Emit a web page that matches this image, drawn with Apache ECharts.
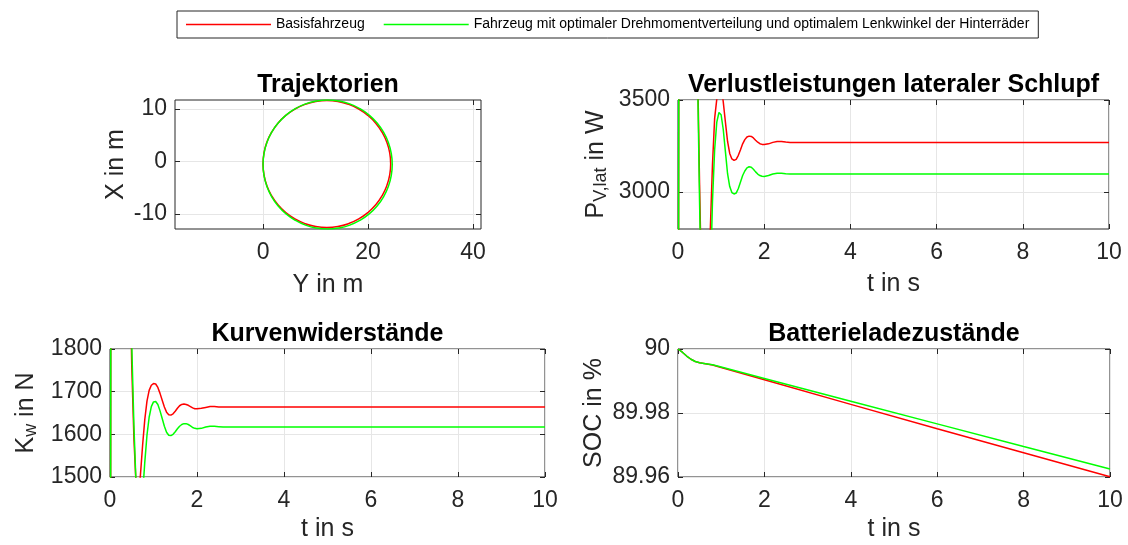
<!DOCTYPE html>
<html><head><meta charset="utf-8">
<script src="https://cdn.jsdelivr.net/npm/echarts@6/dist/echarts.min.js"></script>
<style>html,body{margin:0;padding:0;background:#fff}#c{width:1128px;height:545px}</style>
</head><body><div id="c"></div>
<script>
// ---------- data ----------
const seriesNames = ['Basisfahrzeug', 'Fahrzeug mit optimaler Drehmomentverteilung und optimalem Lenkwinkel der Hinterräder'];
const titles = ['Trajektorien', 'Verlustleistungen lateraler Schlupf', 'Kurvenwiderstände', 'Batterieladezustände'];

// Trajectories (Y in m horizontal, X in m vertical)
const trajRedY = [0, 0.18, 0.73, 1.63, 2.84, 4.34, 6.08, 7.99, 10.04, 12.15, 14.26, 16.31, 18.23, 19.96, 21.46, 22.67, 23.57, 24.12, 24.30, 24.12, 23.57, 22.67, 21.46, 19.96, 18.23, 16.31, 14.26, 12.15, 10.04, 7.99, 6.08, 4.34, 2.84, 1.63, 0.73, 0.18, 0];
const trajRedX = [-0.5, 1.60, 3.64, 5.55, 7.28, 8.77, 9.98, 10.87, 11.42, 11.6, 11.42, 10.87, 9.98, 8.77, 7.28, 5.55, 3.64, 1.60, -0.5, -2.60, -4.64, -6.55, -8.28, -9.77, -10.98, -11.87, -12.42, -12.6, -12.42, -11.87, -10.98, -9.77, -8.28, -6.55, -4.64, -2.60, -0.5];
const trajGreenY = [0, 0.19, 0.74, 1.65, 2.88, 4.39, 6.15, 8.09, 10.16, 12.3, 14.44, 16.51, 18.45, 20.21, 21.72, 22.95, 23.86, 24.41, 24.6, 24.41, 23.86, 22.95, 21.72, 20.21, 18.45, 16.51, 14.44, 12.3, 10.16, 8.09, 6.15, 4.39, 2.88, 1.65, 0.74, 0.19, 0];
const trajGreenX = [-0.6, 1.54, 3.61, 5.55, 7.31, 8.82, 10.05, 10.96, 11.51, 11.7, 11.51, 10.96, 10.05, 8.82, 7.31, 5.55, 3.61, 1.54, -0.6, -2.74, -4.81, -6.75, -8.51, -10.02, -11.25, -12.16, -12.71, -12.9, -12.71, -12.16, -11.25, -10.02, -8.51, -6.75, -4.81, -2.74, -0.6];

// time base for P and K
const tT = [0, 0.03, 0.1, 0.2, 0.3, 0.4, 0.45, 0.5, 0.55, 0.6, 0.65, 0.7, 0.75, 0.8, 0.85, 0.9, 0.95, 1.0, 1.05, 1.1, 1.15, 1.2, 1.25, 1.3, 1.35, 1.4, 1.45, 1.5, 1.55, 1.6, 1.65, 1.7, 1.75, 1.8, 1.85, 1.9, 1.95, 2.0, 2.1, 2.2, 2.3, 2.4, 2.5, 2.6, 2.8, 3.0, 4, 5, 6, 7, 8, 9, 10];
const pRed = [0, 6000, 7500, 7000, 5600, 4300, 3750, 3050, 2450, 1950, 1800, 2150, 2800, 3150, 3400, 3505, 3585, 3580, 3490, 3380, 3275, 3210, 3180, 3172, 3178, 3200, 3230, 3262, 3285, 3299, 3304, 3302, 3294, 3282, 3271, 3263, 3259, 3258, 3262, 3270, 3275, 3275, 3272, 3270, 3269, 3269, 3269, 3269, 3269, 3269, 3269, 3269, 3269];
const pGreen = [0, 6000, 7500, 7000, 5600, 4300, 3700, 2950, 2350, 1900, 1750, 2000, 2500, 2950, 3230, 3380, 3432, 3420, 3340, 3220, 3100, 3030, 2998, 2990, 2995, 3020, 3055, 3090, 3115, 3132, 3138, 3135, 3124, 3110, 3098, 3090, 3086, 3085, 3090, 3098, 3102, 3102, 3100, 3099, 3098, 3098, 3098, 3098, 3098, 3098, 3098, 3098, 3098];
const kRed = [0, 3000, 3600, 3400, 3000, 2400, 2050, 1760, 1590, 1480, 1455, 1505, 1575, 1635, 1678, 1703, 1715, 1719, 1718, 1710, 1696, 1680, 1664, 1652, 1646, 1645, 1648, 1654, 1661, 1667, 1670, 1671, 1670, 1668, 1665, 1662, 1660, 1660, 1661, 1663, 1665, 1665, 1664, 1664, 1664, 1664, 1664, 1664, 1664, 1664, 1664, 1664, 1664];
const kGreen = [0, 3000, 3600, 3400, 3000, 2400, 2080, 1810, 1620, 1480, 1400, 1400, 1460, 1535, 1598, 1640, 1665, 1676, 1677, 1670, 1655, 1637, 1619, 1605, 1598, 1597, 1600, 1606, 1613, 1619, 1623, 1625, 1625, 1623, 1620, 1616, 1614, 1613, 1614, 1617, 1619, 1619, 1618, 1617, 1617, 1617, 1617, 1617, 1617, 1617, 1617, 1617, 1617];

// SOC
const tS = [0, 0.1, 0.2, 0.3, 0.4, 0.5, 0.6, 0.8, 1, 2, 4, 6, 8, 10];
const socRed = [90, 89.9990, 89.9978, 89.9968, 89.9961, 89.9957, 89.9955, 89.9950, 89.9942, 89.9904, 89.9827, 89.9751, 89.9676, 89.9601];
const socGreen = [90, 89.9990, 89.9978, 89.9968, 89.9961, 89.9957, 89.9955, 89.9951, 89.9944, 89.9908, 89.9837, 89.9766, 89.9695, 89.9625];

// tick values
const trajXTicks = [0, 20, 40];
const trajYTicks = [-10, 0, 10];
const tTicks = [0, 2, 4, 6, 8, 10];
const pTicks = [3000, 3500];
const kTicks = [1500, 1600, 1700, 1800];
const socTicks = [89.96, 89.98, 90];

// ---------- layout / style ----------
const FONT = "'Liberation Sans', Helvetica, Arial, sans-serif";
const AX = '#262626';
const GRIDC = '#e6e6e6';
const RED = '#ff0000', GREEN = '#00ff00';
const TICK_FS = 23, NAME_FS = 25, TITLE_FS = 25;

const grids = [
  {left: 175, top: 100, width: 306, height: 129},
  {left: 678, top: 100, width: 431, height: 129},
  {left: 110, top: 349, width: 435, height: 128},
  {left: 678, top: 349, width: 432, height: 128}
];

function zip(a, b) { return a.map((v, i) => [v, b[i]]); }

const xAxes = [], yAxes = [];
function tickCfg(vals) {
  return {show: true, inside: true, length: 5, customValues: vals, lineStyle: {color: AX, width: 1}};
}
function addAxes(g, xc, yc) {
  xAxes.push({
    type: 'value', gridIndex: g, position: 'bottom', min: xc.min, max: xc.max,
    axisLine: {show: false, onZero: false},
    axisTick: tickCfg(xc.ticks),
    axisLabel: {customValues: xc.ticks, color: AX, fontSize: TICK_FS, fontFamily: FONT, margin: 12, formatter: xc.fmt},
    splitLine: {show: true, lineStyle: {color: GRIDC, width: 1}},
    name: xc.name, nameLocation: 'middle', nameGap: xc.gap,
    nameTextStyle: {color: AX, fontSize: NAME_FS, fontFamily: FONT}
  });
  xAxes.push({
    type: 'value', gridIndex: g, position: 'top', min: xc.min, max: xc.max,
    axisLine: {show: false, onZero: false},
    axisTick: tickCfg(xc.ticks),
    axisLabel: {show: false, customValues: xc.ticks}, splitLine: {show: false}
  });
  yAxes.push({
    type: 'value', gridIndex: g, position: 'left', min: yc.min, max: yc.max,
    axisLine: {show: false, onZero: false},
    axisTick: tickCfg(yc.ticks),
    axisLabel: {customValues: yc.ticks, color: AX, fontSize: TICK_FS, fontFamily: FONT, margin: 8, formatter: yc.fmt},
    splitLine: {show: true, lineStyle: {color: GRIDC, width: 1}},
    name: yc.name, nameLocation: 'middle', nameGap: yc.gap, nameRotate: 90,
    nameTextStyle: {color: AX, fontSize: NAME_FS, fontFamily: FONT, rich: yc.rich}
  });
  yAxes.push({
    type: 'value', gridIndex: g, position: 'right', min: yc.min, max: yc.max,
    axisLine: {show: false, onZero: false},
    axisTick: tickCfg(yc.ticks),
    axisLabel: {show: false, customValues: yc.ticks}, splitLine: {show: false}
  });
}

const subRich = {
  m: {fontSize: NAME_FS, color: AX, fontFamily: FONT, lineHeight: 28},
  s: {fontSize: 18, color: AX, fontFamily: FONT, lineHeight: 18, verticalAlign: 'bottom', padding: [20, 0, 0, 0]}
};
const intFmt = v => String(Math.round(v));
const socFmt = v => String(Math.round(v * 100) / 100);

addAxes(0, {min: -16.76, max: 41.5, ticks: trajXTicks, name: 'Y in m', gap: 44, fmt: intFmt},
           {min: -12.9, max: 11.7, ticks: trajYTicks, name: 'X in m', gap: 46, fmt: intFmt});
addAxes(1, {min: 0, max: 10, ticks: tTicks, name: 't in s', gap: 43, fmt: intFmt},
           {min: 2800, max: 3500, ticks: pTicks, name: '{m|P}{s|V,lat}{m| in W}', gap: 68, fmt: intFmt, rich: subRich});
addAxes(2, {min: 0, max: 10, ticks: tTicks, name: 't in s', gap: 40, fmt: intFmt},
           {min: 1500, max: 1800, ticks: kTicks, name: '{m|K}{s|w}{m| in N}', gap: 70, fmt: intFmt, rich: subRich});
addAxes(3, {min: 0, max: 10, ticks: tTicks, name: 't in s', gap: 40, fmt: intFmt},
           {min: 89.96, max: 90, ticks: socTicks, name: 'SOC in %', gap: 71, fmt: socFmt});

function line(name, color, g, data, smooth) {
  return {
    type: 'line', name: name, xAxisIndex: 2 * g, yAxisIndex: 2 * g, data: data,
    symbol: 'none', smooth: smooth, clip: true,
    lineStyle: {color: color, width: 1.5}, itemStyle: {color: color}
  };
}

const series = [
  line(seriesNames[0], RED, 0, zip(trajRedY, trajRedX), true),
  line(seriesNames[1], GREEN, 0, zip(trajGreenY, trajGreenX), true),
  line(seriesNames[0], RED, 1, zip(tT, pRed), false),
  line(seriesNames[1], GREEN, 1, zip(tT, pGreen), false),
  line(seriesNames[0], RED, 2, zip(tT, kRed), false),
  line(seriesNames[1], GREEN, 2, zip(tT, kGreen), false),
  line(seriesNames[0], RED, 3, zip(tS, socRed), false),
  line(seriesNames[1], GREEN, 3, zip(tS, socGreen), false)
];

const titleComps = grids.map((g, i) => ({
  text: titles[i], left: g.left + g.width / 2, top: i < 2 ? 73 : 322, textAlign: 'center', padding: 0,
  textStyle: {fontSize: TITLE_FS, fontWeight: 'bold', color: '#000', fontFamily: FONT}
}));

const option = {
  animation: false,
  backgroundColor: '#fff',
  title: titleComps,
  legend: {
    data: seriesNames, left: 177, top: 11, orient: 'horizontal', icon: 'rect',
    itemWidth: 85, itemHeight: 1.5, itemGap: 19, selectedMode: false,
    padding: [6, 9, 6, 9], borderColor: AX, borderWidth: 1,
    textStyle: {fontSize: 14, color: '#000', fontFamily: FONT, lineHeight: 15}
  },
  grid: grids.map(g => Object.assign({show: true, borderColor: AX, borderWidth: 1, backgroundColor: '#fff', containLabel: false}, g)),
  xAxis: xAxes,
  yAxis: yAxes,
  series: series
};

const chart = echarts.init(document.getElementById('c'), null, {renderer: 'canvas'});
chart.setOption(option);
</script></body></html>
